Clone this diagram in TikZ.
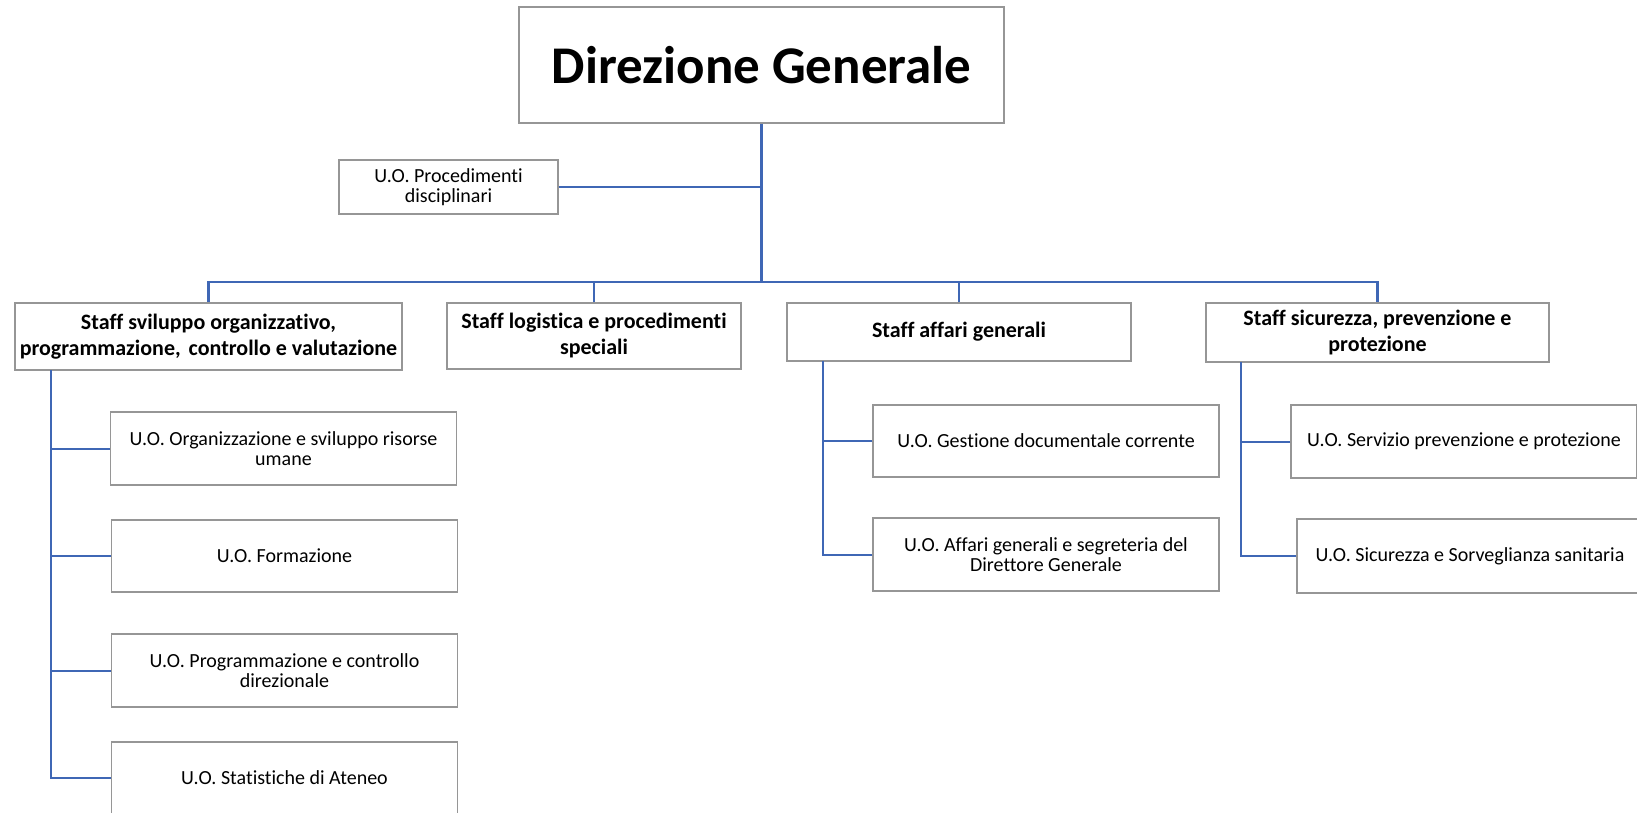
\documentclass[tikz,border=0pt]{standalone}
\usepackage{fontspec}
\setmainfont{Carlito}[Ligatures={NoCommon}]
\definecolor{linkblue}{HTML}{3F67B5}
\definecolor{boxgrey}{HTML}{969696}
\begin{document}
\begin{tikzpicture}[x=1pt,y=-1pt,
        box/.style={draw=boxgrey, line width=1.2pt, fill=white, inner sep=0pt, align=center},
        uo/.style={box, minimum width=346pt, minimum height=72pt, font=\fontsize{20}{20}\selectfont},
        staff/.style={box, font=\bfseries\fontsize{22}{26}\selectfont},
        link/.style={draw=linkblue, line width=2pt},
        trunk/.style={draw=linkblue, line width=2.8pt}]
        \useasboundingbox (0,0) rectangle (1637,812);

        \draw (761.5,65) node [box, minimum width=485pt, minimum height=116pt, font=\bfseries\fontsize{53}{56}\selectfont] (dg) {Direzione Generale};
        \draw (448.5,187) node [box, minimum width=219pt, minimum height=54pt, font=\fontsize{20}{19.5}\selectfont] (proc) {U.O. Procedimenti\\disciplinari};

        \draw (208.5,336.5) node [staff, minimum width=387pt, minimum height=67pt] (s1) {Staff sviluppo organizzativo,\\programmazione,\hspace{3pt} controllo e valutazione};
        \draw (594,336) node [staff, minimum width=294pt, minimum height=66pt] (s2) {Staff logistica e procedimenti\\speciali};
        \draw (959,332) node [staff, minimum width=344pt, minimum height=58pt] (s3) {Staff affari generali};
        \draw (1377.5,332.5) node [staff, minimum width=343pt, minimum height=59pt] (s4) {Staff sicurezza, prevenzione e\\protezione};

        \draw (283.5,448.5) node [uo, minimum height=73pt] (u1) {U.O. Organizzazione e sviluppo risorse\\umane};
        \draw (284.5,556) node [uo] (u2) {U.O. Formazione};
        \draw (284.5,670.5) node [uo, minimum height=73pt] (u3) {U.O. Programmazione e controllo\\direzionale};
        \draw (284.5,778) node [uo] (u4) {U.O. Statistiche di Ateneo};

        \draw (1046,441) node [uo] (a1) {U.O. Gestione documentale corrente};
        \draw (1046,554.5) node [uo, minimum height=73pt] (a2) {U.O. Affari generali e segreteria del\\Direttore Generale};

        \draw (1464,441.5) node [uo, minimum height=73pt] (c1) {U.O. Servizio prevenzione e protezione};
        \draw (1470,556) node [uo, minimum height=74pt] (c2) {U.O. Sicurezza e Sorveglianza sanitaria};

        \coordinate (bus) at (761.5,282);
        \coordinate (sv) at (51,370);
        \coordinate (av) at (823,361);
        \coordinate (cv) at (1241,362);

        \draw[trunk] (dg.south) -- (bus);
        \draw[link] (proc.east) -- (proc.east -| dg.south);
        \draw[trunk] (s1.north) |- (bus) -| (s4.north);
        \draw[link] (s2.north) -- (s2.north |- bus);
        \draw[link] (s3.north) -- (s3.north |- bus);

        \foreach \n in {u1,u2,u3,u4}
            \draw[link] (\n.west) -| (sv);
        \foreach \n in {a1,a2}
            \draw[link] (\n.west) -| (av);
        \foreach \n in {c1,c2}
            \draw[link] (\n.west) -| (cv);
    \end{tikzpicture}
\end{document}
